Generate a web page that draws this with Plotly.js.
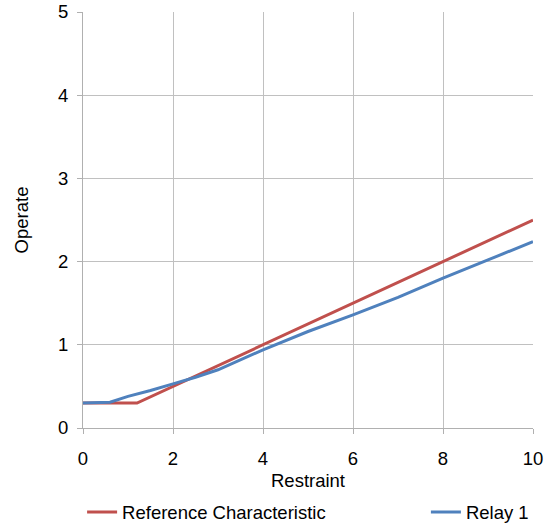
<!DOCTYPE html>
<html><head><meta charset="utf-8">
<script src="https://cdn.plot.ly/plotly-3.0.1.min.js"></script>
<style>html,body{margin:0;padding:0;background:#fff;}#chart{width:557px;height:525px;}</style>
</head><body><div id="chart"></div>
<script>
const refX = [0, 1.2, 10];
const refY = [0.3, 0.3, 2.5];
const relayX = [0, 0.6, 1, 1.5, 2, 2.5, 3, 3.5, 4, 5, 6, 7, 8, 9, 10];
const relayY = [0.3, 0.31, 0.38, 0.45, 0.53, 0.61, 0.7, 0.82, 0.94, 1.16, 1.36, 1.57, 1.80, 2.02, 2.24];
const xTicks = [0, 2, 4, 6, 8, 10];
const yTicks = [0, 1, 2, 3, 4, 5];
const font = "Liberation Sans, Arial, sans-serif";
const fs = 18.5;
const axisCommon = {
  showline: true, linecolor: '#b0b0b0', linewidth: 1,
  showgrid: true, gridcolor: '#c0c0c0', gridwidth: 1,
  ticks: 'outside', ticklen: 5, tickcolor: '#b0b0b0',
  zeroline: false, tickfont: {family: font, size: fs, color: '#000'}
};
const legendCommon = {orientation: 'h', xanchor: 'left', y: -0.203, yanchor: 'middle',
  font: {family: font, size: fs, color: '#000'}, bgcolor: 'rgba(0,0,0,0)', borderwidth: 0};
const data = [
  {x: refX, y: refY, mode: 'lines', name: 'Reference Characteristic', legend: 'legend',
   line: {color: '#c0504d', width: 3}},
  {x: relayX, y: relayY, mode: 'lines', name: 'Relay 1', legend: 'legend2',
   line: {color: '#4f81bd', width: 3}}
];
const layout = {
  width: 557, height: 525,
  margin: {l: 83, r: 24, t: 12, b: 97, autoexpand: false},
  paper_bgcolor: '#fff', plot_bgcolor: '#fff',
  font: {family: font, size: fs, color: '#000'},
  xaxis: Object.assign({}, axisCommon, {range: [0, 10], tickvals: xTicks, ticklabelstandoff: 9,
    title: {text: 'Restraint', font: {family: font, size: fs}, standoff: 5}}),
  yaxis: Object.assign({}, axisCommon, {range: [0, 5], tickvals: yTicks, ticklabelstandoff: 5,
    title: {text: 'Operate', font: {family: font, size: fs}, standoff: 24}}),
  showlegend: true,
  legend: Object.assign({}, legendCommon, {x: -0.002}),
  legend2: Object.assign({}, legendCommon, {x: 0.762})
};
Plotly.newPlot('chart', data, layout, {displayModeBar: false});
</script></body></html>
